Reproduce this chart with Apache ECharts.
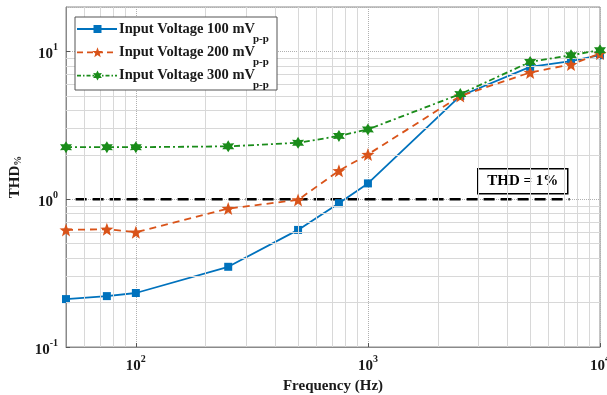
<!DOCTYPE html>
<html><head><meta charset="utf-8">
<script src="https://cdn.jsdelivr.net/npm/echarts@6/dist/echarts.min.js"></script>
<style>html,body{margin:0;padding:0;background:#fff}#c{width:607px;height:395px}</style>
</head><body><div id="c"></div>
<script>
// ---- data ----
const freq = [50, 75, 100, 250, 500, 750, 1000, 2500, 5000, 7500, 10000];
const thd100 = [0.211, 0.221, 0.232, 0.349, 0.62, 0.94, 1.28, 5.0, 7.87, 8.6, 9.44];
const thd200 = [0.62, 0.627, 0.598, 0.864, 0.99, 1.56, 2.01, 5.0, 7.21, 8.17, 9.69];
const thd300 = [2.25, 2.25, 2.25, 2.28, 2.41, 2.68, 2.97, 5.15, 8.5, 9.44, 10.2];
const seriesNames = ['Input Voltage 100 mV', 'Input Voltage 200 mV', 'Input Voltage 300 mV'];
const nameSub = 'p-p';
const refLevel = 1;
const refSpan = [55, 7400];
const refLabel = 'THD = 1%';
const xRange = [50, 10000];
const yRange = [0.1, 20];

// ---- helpers ----
const FONT = '"Liberation Serif", "Times New Roman", serif';
function starPoints(n, ro, ri) {
  const pts = [];
  for (let i = 0; i < 2 * n; i++) {
    const r = i % 2 === 0 ? ro : ri;
    const a = -Math.PI / 2 + i * Math.PI / n;
    pts.push([r * Math.cos(a), r * Math.sin(a)]);
  }
  return pts;
}
function starPath(n, ro, ri) {
  return 'path://' + starPoints(n, ro, ri).map((p, i) => (i === 0 ? 'M' : 'L') + p[0].toFixed(3) + ' ' + p[1].toFixed(3)).join(' ') + ' Z';
}
function minorValues(lo, hi) {
  const out = [];
  for (let k = Math.floor(Math.log10(lo)); k <= Math.ceil(Math.log10(hi)); k++) {
    for (let m = 2; m <= 9; m++) {
      const v = m * Math.pow(10, k);
      if (v > lo && v < hi) out.push(v);
    }
  }
  return out;
}
function pow10Label(v) {
  const e = Math.round(Math.log10(v));
  if (Math.abs(v - Math.pow(10, e)) / v > 1e-6) return '';
  return '{b|10}{sup|' + e + '}';
}
const zip = (xs, ys) => xs.map((x, i) => [x, ys[i]]);

const labelStyle = {
  fontFamily: FONT, fontWeight: 'bold', fontSize: 15, color: '#1a1a1a',
  rich: {
    b: { fontFamily: FONT, fontWeight: 'bold', fontSize: 15, color: '#1a1a1a', padding: [6, 0, 0, 0] },
    sup: { fontFamily: FONT, fontWeight: 'bold', fontSize: 10, color: '#1a1a1a', padding: [0, 0, 8, 0] }
  }
};

const chart = echarts.init(document.getElementById('c'), null, { renderer: 'canvas' });
const colors = ['#0072BD', '#D95319', '#1a8c1a'];
const dashes = [null, [7, 5], [6, 3, 2, 3]];
const legendDashes = [null, [6, 4], [4, 2, 1.5, 2]];

// ---- legend drawn as graphic (for subscript layout) ----
const legendItems = [{
  type: 'rect', shape: { x: 75, y: 17, width: 202, height: 73 },
  style: { fill: '#fff', stroke: '#555', lineWidth: 1 }, z: 20
}];
seriesNames.forEach((n, i) => {
  const cy = 29 + i * 23.3;
  legendItems.push({
    type: 'line', shape: { x1: 77, y1: cy, x2: 117, y2: cy }, z: 21,
    style: { stroke: colors[i], lineWidth: 1.8, lineDash: legendDashes[i] }
  });
  if (i === 0) {
    legendItems.push({ type: 'rect', shape: { x: 93.5, y: cy - 4, width: 8, height: 8 }, style: { fill: colors[i] }, z: 22 });
  } else {
    const pts = i === 1 ? starPoints(5, 5.5, 2.3) : starPoints(6, 5, 2.8);
    legendItems.push({ type: 'polygon', x: 97.5, y: cy + (i === 1 ? 0.5 : 0), shape: { points: pts }, style: { fill: colors[i] }, z: 22 });
  }
  legendItems.push({
    type: 'text', x: 119, y: cy, z: 22,
    style: { text: n, fontFamily: FONT, fontWeight: 'bold', fontSize: 14.5, fill: '#1a1a1a', align: 'left', verticalAlign: 'middle' }
  });
  legendItems.push({
    type: 'text', x: 253, y: cy + 10, z: 22,
    style: { text: nameSub, fontFamily: FONT, fontWeight: 'bold', fontSize: 11, fill: '#1a1a1a', align: 'left', verticalAlign: 'middle' }
  });
});

const option = {
  animation: false,
  backgroundColor: '#ffffff',
  grid: { left: 66, right: 7, top: 7, bottom: 48, show: true, borderColor: '#8a8a8a', borderWidth: 1, backgroundColor: '#fff', containLabel: false, outerBoundsMode: 'none' },
  xAxis: {
    type: 'log', logBase: 10, min: xRange[0], max: xRange[1],
    name: 'Frequency (Hz)', nameLocation: 'middle', nameGap: 26,
    nameTextStyle: { fontFamily: FONT, fontWeight: 'bold', fontSize: 15, color: '#1a1a1a' },
    axisLine: { lineStyle: { color: '#8a8a8a', width: 1 } },
    axisTick: { inside: true, length: 4, lineStyle: { color: '#555' } },
    axisLabel: Object.assign({ formatter: pow10Label, margin: 6, showMinLabel: false }, labelStyle),
    splitLine: { show: true, lineStyle: { color: '#b0b0b0', type: 'dotted', width: 1 } }
  },
  yAxis: {
    type: 'log', logBase: 10, min: yRange[0], max: yRange[1],
    name: 'THD{sub|%}', nameLocation: 'middle', nameGap: 32,
    nameTextStyle: {
      fontFamily: FONT, fontWeight: 'bold', fontSize: 15, color: '#1a1a1a',
      rich: { sub: { fontFamily: FONT, fontWeight: 'bold', fontSize: 10, color: '#1a1a1a', padding: [8, 0, 0, 0] } }
    },
    axisLine: { lineStyle: { color: '#8a8a8a', width: 1 } },
    axisTick: { inside: true, length: 4, lineStyle: { color: '#555' } },
    axisLabel: Object.assign({ formatter: pow10Label, margin: 8, showMaxLabel: false }, labelStyle),
    splitLine: { show: true, lineStyle: { color: '#b0b0b0', type: 'dotted', width: 1 } }
  },
  series: [
    {
      name: 'grid', type: 'line', data: [[xRange[0], yRange[0]]], symbol: 'none', silent: true,
      lineStyle: { opacity: 0 }, z: 1,
      markLine: {
        silent: true, symbol: 'none', label: { show: false }, animation: false,
        lineStyle: { color: '#d8d8d8', type: 'solid', width: 1 },
        data: minorValues(xRange[0], xRange[1]).map(v => ({ xAxis: v }))
          .concat(minorValues(yRange[0], yRange[1]).map(v => ({ yAxis: v })))
      }
    },
    {
      name: 'ref', type: 'line', data: [[refSpan[0], refLevel], [refSpan[1], refLevel]], symbol: 'none', silent: true,
      lineStyle: { color: '#000', width: 2.5, type: [11, 6] }, z: 3
    },
    {
      name: seriesNames[0], type: 'line', data: zip(freq, thd100), color: colors[0],
      symbol: 'rect', symbolSize: 8, lineStyle: { width: 1.8, type: 'solid' }, itemStyle: { color: colors[0] }, z: 4
    },
    {
      name: seriesNames[1], type: 'line', data: zip(freq, thd200), color: colors[1],
      symbol: starPath(5, 10, 4.2), symbolSize: [13, 13], lineStyle: { width: 1.8, type: dashes[1] }, itemStyle: { color: colors[1] }, z: 5
    },
    {
      name: seriesNames[2], type: 'line', data: zip(freq, thd300), color: colors[2],
      symbol: starPath(6, 10, 5.5), symbolSize: [12, 12], lineStyle: { width: 1.8, type: dashes[2] }, itemStyle: { color: colors[2] }, z: 6
    }
  ],
  graphic: [{
    type: 'group', left: 477, top: 168, z: 10,
    children: [
      { type: 'rect', shape: { x: 0, y: 0, width: 90, height: 25 }, style: { fill: '#fff', stroke: '#000', lineWidth: 1.5 } },
      { type: 'text', x: 45, y: 12.5, style: { text: refLabel, fontFamily: FONT, fontWeight: 'bold', fontSize: 15, fill: '#000', align: 'center', verticalAlign: 'middle' } }
    ]
  }, {
    type: 'group', z: 20, children: legendItems
  }]
};
chart.setOption(option);
</script>
</body></html>
